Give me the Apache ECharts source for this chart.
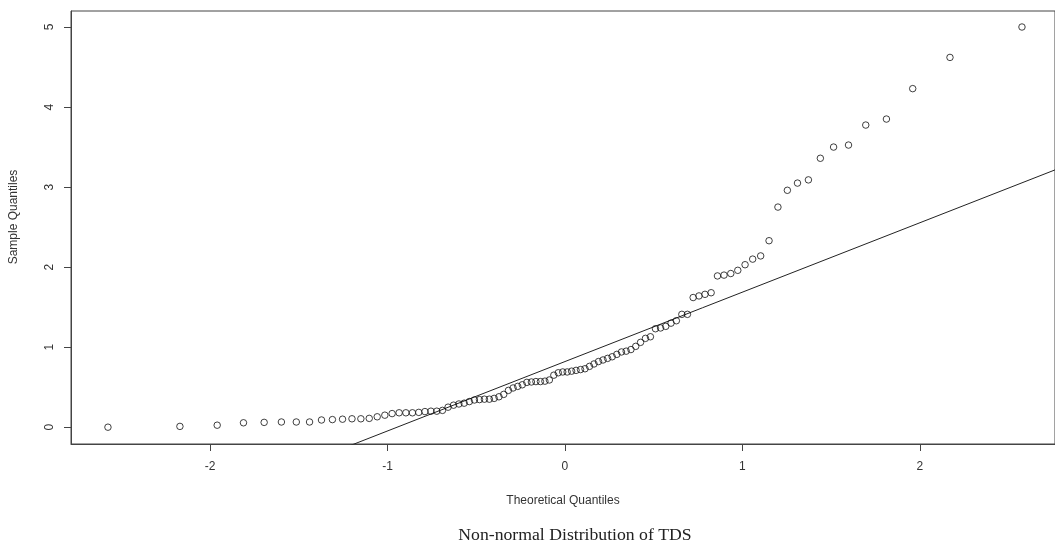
<!DOCTYPE html>
<html>
<head>
<meta charset="utf-8">
<script src="https://cdn.jsdelivr.net/npm/echarts@6/dist/echarts.min.js"></script>
<style>html,body{margin:0;padding:0;background:#fff}#c{width:1055px;height:547px}</style>
</head>
<body>
<div id="c"></div>
<script>
// Theoretical normal quantiles for n = 100 (p = (i-0.5)/100)
const theoretical = [
 -2.5758,-2.1701,-1.9600,-1.8119,-1.6954,-1.5982,-1.5141,-1.4395,-1.3722,-1.3106,
 -1.2536,-1.2004,-1.1503,-1.1031,-1.0581,-1.0152,-0.9741,-0.9346,-0.8965,-0.8596,
 -0.8239,-0.7892,-0.7554,-0.7225,-0.6903,-0.6588,-0.6280,-0.5978,-0.5681,-0.5388,
 -0.5101,-0.4817,-0.4538,-0.4261,-0.3989,-0.3719,-0.3451,-0.3186,-0.2924,-0.2663,
 -0.2404,-0.2147,-0.1891,-0.1637,-0.1383,-0.1130,-0.0878,-0.0627,-0.0376,-0.0125,
  0.0125, 0.0376, 0.0627, 0.0878, 0.1130, 0.1383, 0.1637, 0.1891, 0.2147, 0.2404,
  0.2663, 0.2924, 0.3186, 0.3451, 0.3719, 0.3989, 0.4261, 0.4538, 0.4817, 0.5101,
  0.5388, 0.5681, 0.5978, 0.6280, 0.6588, 0.6903, 0.7225, 0.7554, 0.7892, 0.8239,
  0.8596, 0.8965, 0.9346, 0.9741, 1.0152, 1.0581, 1.1031, 1.1503, 1.2004, 1.2536,
  1.3106, 1.3722, 1.4395, 1.5141, 1.5982, 1.6954, 1.8119, 1.9600, 2.1701, 2.5758
];
// Sorted sample values (TDS)
const sample = [
 0.00,0.01,0.025,0.055,0.06,0.065,0.065,0.065,0.09,0.095,
 0.10,0.105,0.105,0.11,0.13,0.15,0.17,0.18,0.18,0.18,
 0.185,0.195,0.20,0.20,0.21,0.25,0.275,0.29,0.30,0.32,
 0.34,0.345,0.35,0.35,0.36,0.38,0.41,0.46,0.49,0.51,
 0.53,0.56,0.565,0.57,0.57,0.575,0.59,0.65,0.68,0.69,
 0.69,0.70,0.71,0.72,0.73,0.76,0.79,0.82,0.84,0.86,
 0.88,0.91,0.94,0.95,0.97,1.01,1.06,1.11,1.13,1.23,
 1.24,1.26,1.30,1.33,1.41,1.41,1.62,1.64,1.66,1.68,
 1.89,1.90,1.92,1.96,2.03,2.10,2.14,2.33,2.75,2.96,
 3.05,3.09,3.36,3.50,3.525,3.775,3.85,4.23,4.62,5.00
];
// Reference line (qqline) parameters
const lineIntercept = 0.82;
const lineSlope = 0.867;
const lineXs = [-3, 3];
const xTicks = [-2, -1, 0, 1, 2];
const yTicks = [0, 1, 2, 3, 4, 5];

const titleText = 'Non-normal Distribution of TDS';
const xName = 'Theoretical Quantiles';
const yName = 'Sample Quantiles';

const points = theoretical.map((q, i) => [q, sample[i]]);
const linePts = lineXs.map(x => [x, lineIntercept + lineSlope * x]);

const chart = echarts.init(document.getElementById('c'), null, {renderer: 'canvas'});
const axisColor = '#444';
const textColor = '#333';
chart.setOption({
  animation: false,
  backgroundColor: '#fff',
  title: {
    text: titleText,
    left: 570, top: 521, textAlign: 'center',
    textStyle: {fontFamily: 'Liberation Serif', fontSize: 17.7, fontWeight: 'normal', color: '#222'}
  },
  graphic: [{
    type: 'text', x: 14, y: 217, rotation: Math.PI / 2,
    style: {text: yName, font: '12px "Liberation Sans"', fill: textColor, align: 'center', verticalAlign: 'middle'}
  }],
  grid: {left: 71, top: 11, right: -2, bottom: 103, show: true, borderColor: axisColor, borderWidth: 1},
  xAxis: {
    type: 'value', min: -2.784, max: 2.762,
    name: xName, nameLocation: 'middle', nameGap: 51,
    nameTextStyle: {fontFamily: 'Liberation Sans', fontSize: 12, color: textColor},
    splitLine: {show: false},
    axisLine: {show: true, onZero: false, lineStyle: {color: axisColor}},
    axisTick: {show: true, length: 7, lineStyle: {color: axisColor}, customValues: xTicks},
    axisLabel: {fontFamily: 'Liberation Sans', fontSize: 12, color: textColor, margin: 17, customValues: xTicks}
  },
  yAxis: {
    type: 'value', min: -0.21, max: 5.2,
    splitLine: {show: false},
    axisLine: {show: true, onZero: false, lineStyle: {color: axisColor}},
    axisTick: {show: true, length: 7, lineStyle: {color: axisColor}, customValues: yTicks},
    axisLabel: {fontFamily: 'Liberation Sans', fontSize: 12, color: textColor, margin: 15, rotate: 90, customValues: yTicks}
  },
  series: [
    {
      type: 'scatter', data: points, symbol: 'circle', symbolSize: 6.5,
      itemStyle: {color: 'rgba(255,255,255,0)', borderColor: '#111', borderWidth: 1}, z: 3
    },
    {
      type: 'line', data: linePts, showSymbol: false, clip: true,
      lineStyle: {color: '#222', width: 1}, z: 2
    }
  ]
});
</script>
</body>
</html>
